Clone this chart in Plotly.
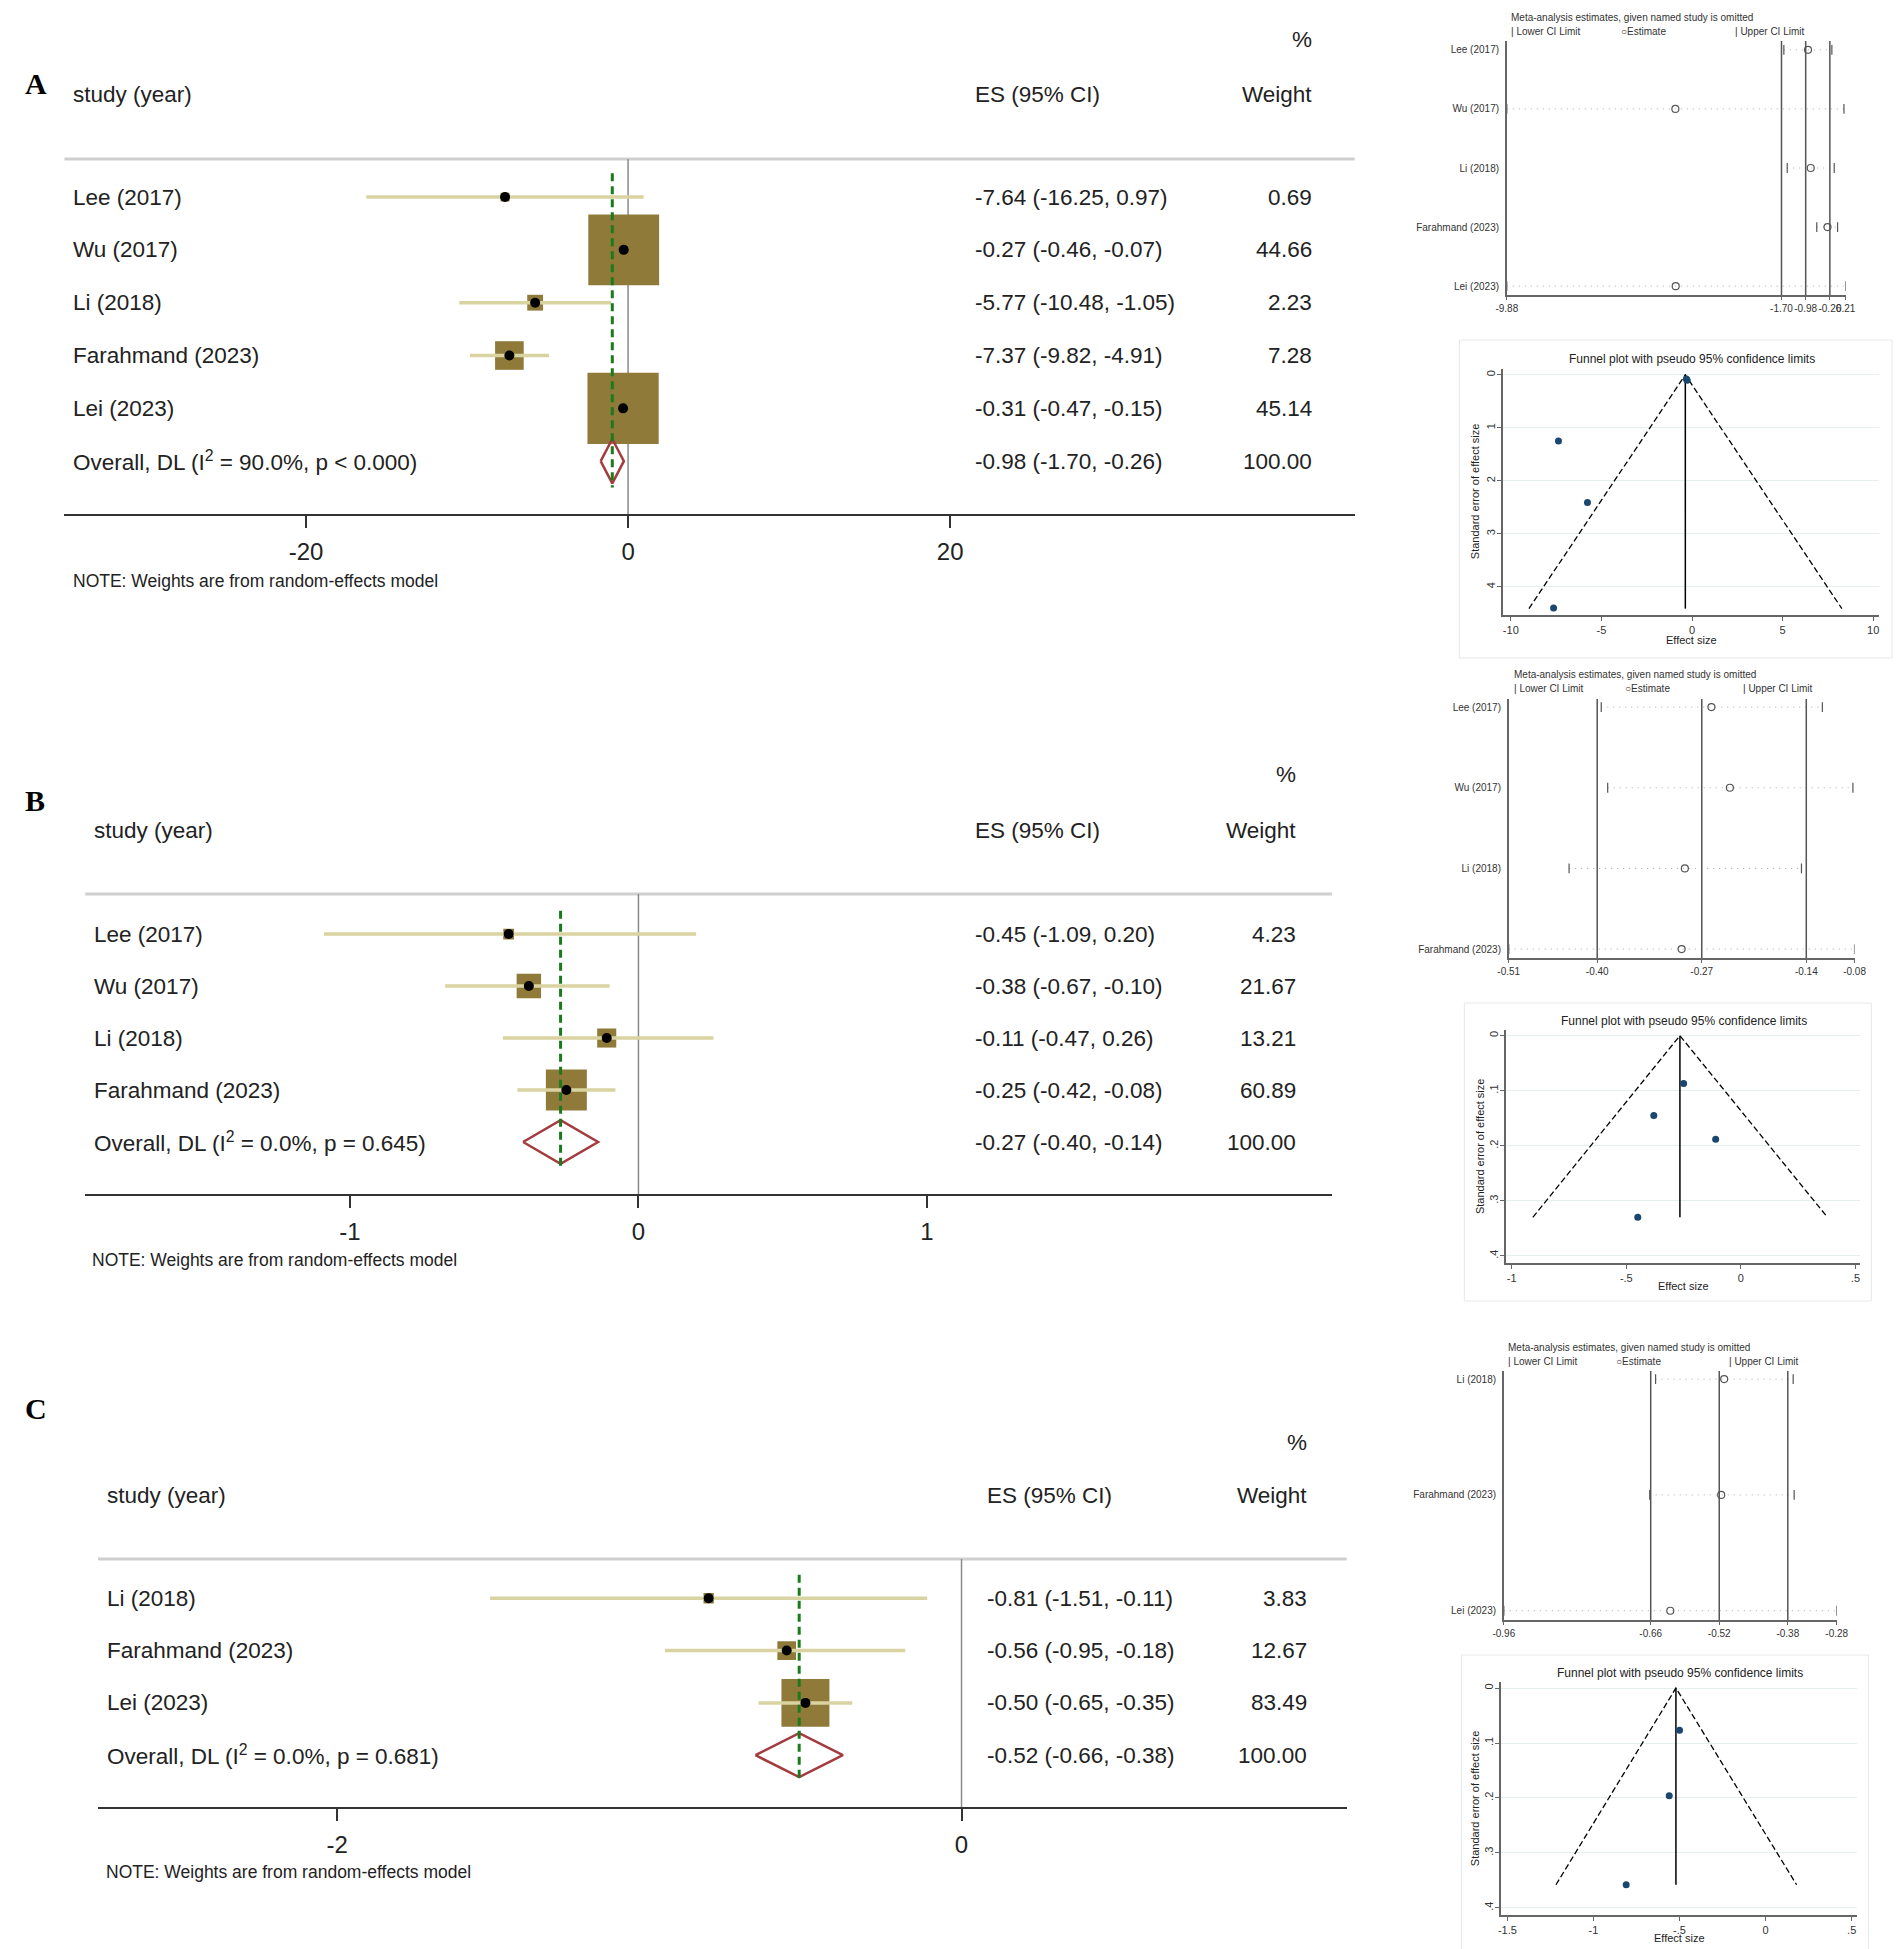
import numpy as np
import plotly.graph_objects as go

W, H = 1902, 1949
SANS = "Liberation Sans, Arial, sans-serif"
SERIF = "Liberation Serif, Times New Roman, serif"

BOX = "#8f7a3a"
CI = "#d8d3a0"
DIAMOND = "#a33b3f"
GREEN = "#1b7a1b"
NAVY = "#1a476f"
FS = 22.5  # forest text size

# ---------------- panel A ----------------
studies_a = ["Lee (2017)", "Wu (2017)", "Li (2018)", "Farahmand (2023)", "Lei (2023)"]
es_a = [-7.64, -0.27, -5.77, -7.37, -0.31]
lo_a = [-16.25, -0.46, -10.48, -9.82, -0.47]
hi_a = [0.97, -0.07, -1.05, -4.91, -0.15]
weight_a = [0.69, 44.66, 2.23, 7.28, 45.14]
overall_a = [-0.98, -1.70, -0.26]  # estimate, lower, upper
het_a = "I<sup>2</sup> = 90.0%, p &lt; 0.000"
xticks_a = [-20, 0, 20]

# leave-one-out estimates
loo_est_a = [-0.91, -4.86, -0.83, -0.33, -4.85]
loo_lo_a = [-1.63, -9.88, -1.53, -0.65, -9.88]
loo_hi_a = [-0.20, 0.16, -0.13, -0.03, 0.21]
loo_ticks_a = [-9.88, -1.70, -0.98, -0.26, 0.21]

# funnel
fun_se_a = [4.40, 0.10, 2.41, 1.25, 0.08]
fun_lines_a = [-0.37, 4.41, -9.00, 8.27]  # centre, max se, left end, right end
fun_xticks_a = [-10, -5, 0, 5, 10]
fun_xlabels_a = ["-10", "-5", "0", "5", "10"]
fun_yticks_a = [0, 1, 2, 3, 4]
fun_ylabels_a = ["0", "1", "2", "3", "4"]

# ---------------- panel B ----------------
studies_b = ["Lee (2017)", "Wu (2017)", "Li (2018)", "Farahmand (2023)"]
es_b = [-0.45, -0.38, -0.11, -0.25]
lo_b = [-1.09, -0.67, -0.47, -0.42]
hi_b = [0.20, -0.10, 0.26, -0.08]
weight_b = [4.23, 21.67, 13.21, 60.89]
overall_b = [-0.27, -0.40, -0.14]
het_b = "I<sup>2</sup> = 0.0%, p = 0.645"
xticks_b = [-1, 0, 1]

loo_est_b = [-0.258, -0.235, -0.291, -0.295]
loo_lo_b = [-0.395, -0.387, -0.435, -0.51]
loo_hi_b = [-0.12, -0.082, -0.146, -0.08]
loo_ticks_b = [-0.51, -0.40, -0.27, -0.14, -0.08]

fun_se_b = [0.330, 0.145, 0.188, 0.087]
fun_lines_b = [-0.266, 0.330, -0.908, 0.378]
fun_xticks_b = [-1, -0.5, 0, 0.5]
fun_xlabels_b = ["-1", "-.5", "0", ".5"]
fun_yticks_b = [0, 0.1, 0.2, 0.3, 0.4]
fun_ylabels_b = ["0", ".1", ".2", ".3", ".4"]

# ---------------- panel C ----------------
studies_c = ["Li (2018)", "Farahmand (2023)", "Lei (2023)"]
es_c = [-0.81, -0.56, -0.50]
lo_c = [-1.51, -0.95, -0.65]
hi_c = [-0.11, -0.18, -0.35]
weight_c = [3.83, 12.67, 83.49]
overall_c = [-0.52, -0.66, -0.38]
het_c = "I<sup>2</sup> = 0.0%, p = 0.681"
xticks_c = [-2, 0]

loo_est_c = [-0.51, -0.516, -0.62]
loo_lo_c = [-0.65, -0.662, -0.96]
loo_hi_c = [-0.369, -0.367, -0.28]
loo_ticks_c = [-0.96, -0.66, -0.52, -0.38, -0.28]

fun_se_c = [0.358, 0.196, 0.077]
fun_lines_c = [-0.521, 0.358, -1.218, 0.18]
fun_xticks_c = [-1.5, -1, -0.5, 0, 0.5]
fun_xlabels_c = ["-1.5", "-1", "-.5", "0", ".5"]
fun_yticks_c = [0, 0.1, 0.2, 0.3, 0.4]
fun_ylabels_c = ["0", ".1", ".2", ".3", ".4"]


fig = go.Figure()
layout = {}
annotations = []
shapes = []


def px(x):
    return x / W


def py(y):
    return 1 - y / H


def ax(n):
    return ("x", "y") if n == 1 else (f"x{n}", f"y{n}")


def text(x, y, s, size, anchor="left", yref="paper", color="#222", family=SANS, angle=0):
    annotations.append(dict(x=px(x), y=py(y) if yref == "paper" else y, xref="paper", yref=yref,
                            text=s, showarrow=False, xanchor=anchor, yanchor="middle", textangle=angle,
                            font=dict(family=family, size=size, color=color)))


def forest(n, studies, es, lo, hi, wt, overall, het, ticks, box_k, frame, xr, yr, cols,
           head_y, pct_y, note, letter):
    xa, ya = ax(n)
    x0, x1, top, bottom = frame
    rows = list(range(len(studies)))
    r_ov = len(studies)
    est, olo, ohi = overall

    # weight boxes, ci lines, point estimates
    fig.add_scatter(x=es, y=rows, mode="markers", xaxis=xa, yaxis=ya,
                    marker=dict(symbol="square", size=list(box_k * np.sqrt(wt)), color=BOX,
                                opacity=1, line_width=0))
    ci_x, ci_y = [], []
    for l, h, r in zip(lo, hi, rows):
        ci_x += [l, h, None]
        ci_y += [r, r, None]
    fig.add_scatter(x=ci_x, y=ci_y, mode="lines", line=dict(color=CI, width=3.5), xaxis=xa, yaxis=ya)
    fig.add_scatter(x=es, y=rows, mode="markers", marker=dict(symbol="circle", size=10, color="black"),
                    xaxis=xa, yaxis=ya)
    # overall diamond + dashed line
    fig.add_scatter(x=[olo, est, ohi, est, olo], y=[r_ov, r_ov - 0.42, r_ov, r_ov + 0.42, r_ov],
                    mode="lines", line=dict(color=DIAMOND, width=2.5), xaxis=xa, yaxis=ya)
    fig.add_scatter(x=[est, est], y=[-0.45, r_ov + 0.5], mode="lines",
                    line=dict(color=GREEN, width=3, dash="8px,5px"), xaxis=xa, yaxis=ya)

    key = "" if n == 1 else str(n)
    layout["xaxis" + key] = dict(domain=[px(x0), px(x1)], range=xr, anchor=ya, showgrid=False,
                                 zeroline=False, showline=True, linecolor="#333", linewidth=2,
                                 ticks="outside", ticklen=12, tickwidth=2, tickcolor="#333",
                                 tickvals=ticks, ticktext=[str(t) for t in ticks], ticklabelstandoff=3,
                                 tickfont=dict(family=SANS, size=24, color="#222"))
    layout["yaxis" + key] = dict(domain=[py(bottom), py(top)], range=yr, anchor=xa, visible=False)

    shapes.append(dict(type="line", xref=f"{xa} domain", yref=f"{ya} domain", x0=0, x1=1, y0=1, y1=1,
                       line=dict(color="#cfcfcf", width=3), layer="below"))
    shapes.append(dict(type="line", xref=xa, yref=f"{ya} domain", x0=0, x1=0, y0=0, y1=1,
                       line=dict(color="#8a8a8a", width=1.5), layer="below"))

    # text columns
    c_study, c_es, c_wt = cols
    text(4, letter[1], "<b>%s</b>" % letter[0], 30, color="black", family=SERIF)
    text(c_study, head_y, "study (year)", FS)
    text(c_es, head_y, "ES (95% CI)", FS)
    text(c_wt, head_y, "Weight", FS, anchor="right")
    text(c_wt, pct_y, "%", FS, anchor="right")
    for s, e, l, h, w, r in zip(studies, es, lo, hi, wt, rows):
        text(c_study, r, s, FS, yref=ya)
        text(c_es, r, f"{e:.2f} ({l:.2f}, {h:.2f})", FS, yref=ya)
        text(c_wt, r, f"{w:.2f}", FS, anchor="right", yref=ya)
    text(c_study, r_ov, f"Overall, DL ({het})", FS, yref=ya)
    text(c_es, r_ov, f"{est:.2f} ({olo:.2f}, {ohi:.2f})", FS, yref=ya)
    text(c_wt, r_ov, f"{100:.2f}", FS, anchor="right", yref=ya)
    text(note[0], note[1], "NOTE: Weights are from random-effects model", 17.5)


def sens(n, studies, est, lo, hi, overall, ticks, frame, yr, head):
    xa, ya = ax(n)
    x0, x1, top, bottom = frame
    rows = list(range(len(studies)))
    dx, dy = [], []
    for l, h, r in zip(lo, hi, rows):
        dx += [l, h, None]
        dy += [r, r, None]
    fig.add_scatter(x=dx, y=dy, mode="lines", line=dict(color="#aaaaaa", width=1, dash="1px,5px"),
                    xaxis=xa, yaxis=ya)
    fig.add_scatter(x=lo + hi, y=rows + rows, mode="markers", xaxis=xa, yaxis=ya,
                    marker=dict(symbol="line-ns-open", size=7, color="#555", line=dict(width=1.2, color="#555")))
    fig.add_scatter(x=est, y=rows, mode="markers", xaxis=xa, yaxis=ya,
                    marker=dict(symbol="circle-open", size=7, color="#555", line=dict(width=1.2)))
    for v in overall:
        shapes.append(dict(type="line", xref=xa, yref=f"{ya} domain", x0=v, x1=v, y0=0, y1=1,
                           line=dict(color="#555", width=1.5)))

    key = str(n)
    layout["xaxis" + key] = dict(domain=[px(x0), px(x1)], range=[ticks[0], ticks[-1]], anchor=ya,
                                 showgrid=False, zeroline=False, showline=True, linecolor="#666",
                                 linewidth=1.5, ticks="outside", ticklen=3, tickcolor="#666",
                                 tickvals=ticks, ticktext=[f"{t:.2f}" for t in ticks], tickangle=0,
                                 tickfont=dict(family=SANS, size=10, color="#333"))
    layout["yaxis" + key] = dict(domain=[py(bottom), py(top)], range=yr, anchor=xa, showgrid=False,
                                 zeroline=False, showline=True, linecolor="#666", linewidth=1.5,
                                 tickvals=rows, ticktext=studies, ticks="", ticklabelstandoff=4,
                                 tickfont=dict(family=SANS, size=10, color="#333"))

    hx, ty, ly, ex, ux = head
    text(hx, ty, "Meta-analysis estimates, given named study is omitted", 10, color="#333")
    text(hx, ly, "| Lower CI Limit", 10, color="#333")
    text(ex, ly, "○Estimate", 10, color="#333")
    text(ux, ly, "| Upper CI Limit", 10, color="#333")


def funnel(n, es, se, lines, xt, xl, yt, yl, frame, xr, yr, box, title_xy, xlab_xy, ylab_xy):
    xa, ya = ax(n)
    x0, x1, top, bottom = frame
    centre, semax, left, right = lines
    fig.add_scatter(x=[left, centre, right], y=[semax, 0, semax], mode="lines",
                    line=dict(color="black", width=1.3, dash="6px,3px"), xaxis=xa, yaxis=ya)
    fig.add_scatter(x=[centre, centre], y=[0, semax], mode="lines",
                    line=dict(color="black", width=1.5), xaxis=xa, yaxis=ya)
    fig.add_scatter(x=es, y=se, mode="markers", marker=dict(color=NAVY, size=7),
                    xaxis=xa, yaxis=ya)

    key = str(n)
    layout["xaxis" + key] = dict(domain=[px(x0), px(x1)], range=xr, anchor=ya, showgrid=False,
                                 zeroline=False, showline=True, linecolor="#666", linewidth=1.5,
                                 ticks="outside", ticklen=4, tickcolor="#666", tickvals=xt, ticktext=xl,
                                 tickangle=0, tickfont=dict(family=SANS, size=11, color="#333"))
    layout["yaxis" + key] = dict(domain=[py(bottom), py(top)], range=yr, anchor=xa, showgrid=True,
                                 gridcolor="#e6eef0", zeroline=False, showline=True, linecolor="#666",
                                 linewidth=1.5, ticks="outside", ticklen=4, tickcolor="#666",
                                 tickvals=yt, ticktext=yl, tickangle=-90, ticklabelstandoff=-2,
                                 tickfont=dict(family=SANS, size=11, color="#333"))
    shapes.append(dict(type="rect", xref="paper", yref="paper", x0=px(box[0]), y0=py(box[1]),
                       x1=px(box[2]), y1=py(box[3]), line=dict(color="#e4e8ea", width=1), layer="below"))
    text(title_xy[0], title_xy[1], "Funnel plot with pseudo 95% confidence limits", 12,
         anchor="center", color="#222")
    text(xlab_xy[0], xlab_xy[1], "Effect size", 11, anchor="center", color="#222")
    text(ylab_xy[0], ylab_xy[1], "Standard error of effect size", 11, anchor="center",
         color="#222", angle=-90)


# forest plots
forest(1, studies_a, es_a, lo_a, hi_a, weight_a, overall_a, het_a, xticks_a, 10.6,
       (46, 1352, 151, 506), [-35.0, 45.12], [6.0, -0.72], (53, 966, 1311), 86, 31, (53, 573), ("A", 75))
forest(2, studies_b, es_b, lo_b, hi_b, weight_b, overall_b, het_b, xticks_b, 5.25,
       (67, 1329, 886, 1186), [-1.918, 2.404], [5.0, -0.77], (74, 966, 1295), 822, 767, (72, 1252), ("B", 792))
forest(3, studies_c, es_c, lo_c, hi_c, weight_c, overall_c, het_c, xticks_c, 5.25,
       (80, 1344, 1551, 1799), [-2.766, 1.234], [3.99, -0.75], (87, 978, 1306), 1487, 1434, (86, 1864), ("C", 1400))

# leave-one-out plots
sens(4, studies_a, loo_est_a, loo_lo_a, loo_hi_a, overall_a, loo_ticks_a,
     (1506, 1849, 33, 287), [4.15, -0.15], (1508, 10, 23, 1620, 1735))
sens(5, studies_b, loo_est_b, loo_lo_b, loo_hi_b, overall_b, loo_ticks_b,
     (1508, 1858, 691, 950), [3.11, -0.1], (1511, 667, 680, 1624, 1743))
sens(6, studies_c, loo_est_c, loo_lo_c, loo_hi_c, overall_c, loo_ticks_c,
     (1503, 1840, 1363, 1612), [2.08, -0.07], (1505, 1339, 1353, 1615, 1729))

# funnel plots
funnel(7, es_a, fun_se_a, fun_lines_a, fun_xticks_a, fun_xlabels_a, fun_yticks_a, fun_ylabels_a,
       (1502, 1883, 361, 607), [-10.44, 10.33], [4.53, -0.11], (1458, 332, 1896, 650),
       (1693, 351), (1693, 632), (1474, 483))
funnel(8, es_b, fun_se_b, fun_lines_b, fun_xticks_b, fun_xlabels_b, fun_yticks_b, fun_ylabels_b,
       (1505, 1864, 1022, 1255), [-1.026, 0.522], [0.413, -0.0103], (1463, 995, 1875, 1293),
       (1685, 1013), (1685, 1278), (1479, 1138))
funnel(9, es_c, fun_se_c, fun_lines_c, fun_xticks_c, fun_xlabels_c, fun_yticks_c, fun_ylabels_c,
       (1500, 1860, 1674, 1907), [-1.538, 0.528], [0.413, -0.011], (1460, 1647, 1872, 1943),
       (1681, 1665), (1681, 1930), (1474, 1790))

fig.update_layout(**layout)
fig.update_layout(width=W, height=H, autosize=False, margin=dict(l=0, r=0, t=0, b=0),
                  paper_bgcolor="white", plot_bgcolor="white", showlegend=False,
                  annotations=annotations, shapes=shapes, hovermode=False)
fig.write_html("out.html")
